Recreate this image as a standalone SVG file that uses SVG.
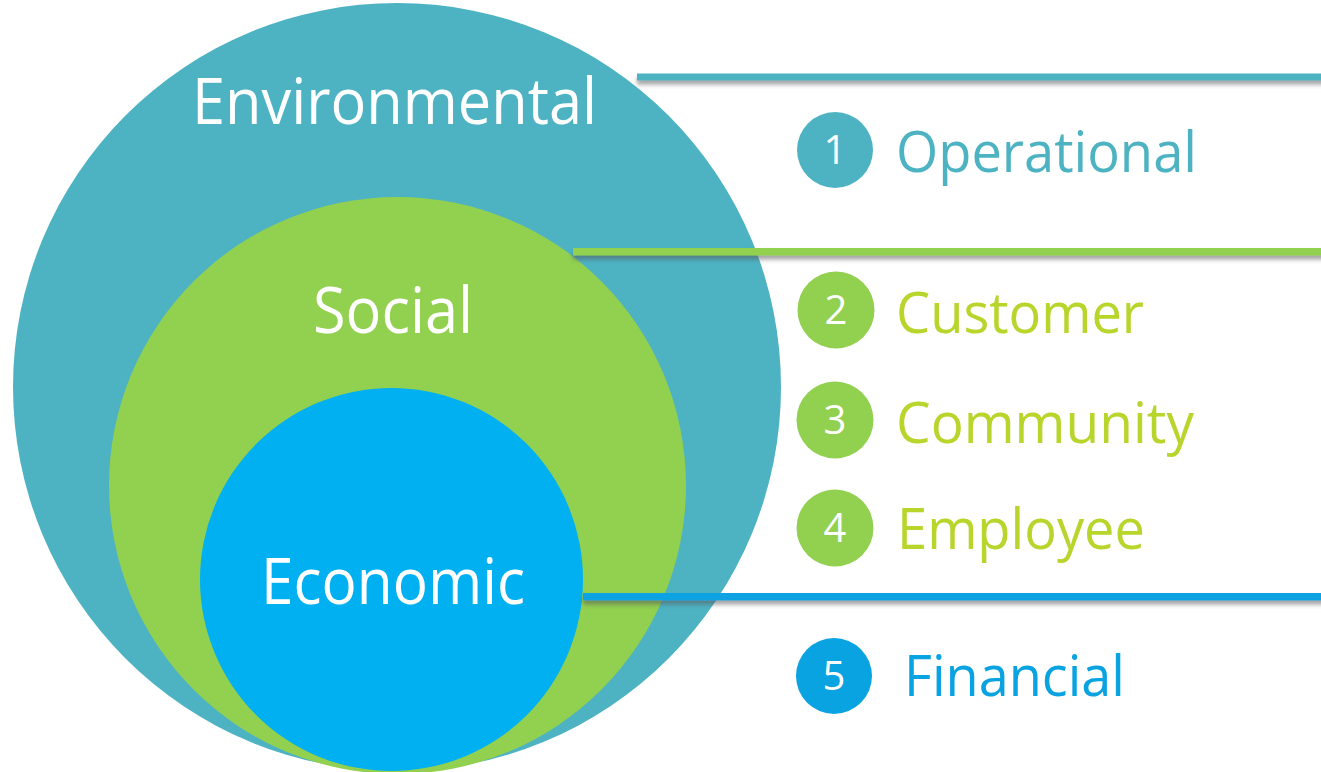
<svg xmlns="http://www.w3.org/2000/svg" width="1321" height="772" viewBox="0 0 1321 772">
  <defs>
    <filter id="sh" x="-5%" y="-200%" width="110%" height="500%">
      <feDropShadow dx="0" dy="4" stdDeviation="2.2" flood-color="#555" flood-opacity="0.55"/>
    </filter>
    <style>
      .big { font-family: "Open Sans", "Noto Sans", sans-serif; font-size: 64px; fill: #ffffff; }
      .lbl { font-family: "Open Sans", "Noto Sans", sans-serif; font-size: 57px; }
      .num { font-family: "Open Sans", "Noto Sans", sans-serif; font-size: 40px; fill: #ffffff; text-anchor: middle; }
      .teal { fill: #4DB3C3; }
      .green { fill: #92D050; }
      .blue { fill: #00B0F0; }
    </style>
  </defs>
  <rect width="1321" height="772" fill="#ffffff"/>

  <g id="environmental">
    <circle cx="397" cy="387" r="384" class="teal"/>
    <text x="192" y="124" class="big" textLength="405" lengthAdjust="spacingAndGlyphs">Environmental</text>
  </g>
  <g id="social">
    <circle cx="397.5" cy="485.5" r="288.5" class="green"/>
    <text x="313" y="333" class="big" textLength="160" lengthAdjust="spacingAndGlyphs">Social</text>
  </g>
  <g id="economic">
    <circle cx="391.5" cy="579.5" r="191.5" class="blue"/>
    <text x="261" y="604" class="big" textLength="264" lengthAdjust="spacingAndGlyphs">Economic</text>
  </g>

  <g id="connectors" filter="url(#sh)">
    <rect x="637" y="73.5" width="690" height="7" fill="#4DB3C3"/>
    <rect x="573" y="248" width="760" height="7.5" fill="#92D050"/>
    <rect x="583" y="593" width="750" height="7.5" fill="#0AA3E2"/>
  </g>

  <g id="operational">
    <circle cx="835" cy="150" r="38" fill="#4DB3C3"/>
    <text x="835" y="164" class="num">1</text>
    <text x="896" y="172" class="lbl" fill="#4DB3C3" textLength="301" lengthAdjust="spacingAndGlyphs">Operational</text>
  </g>
  <g id="customer">
    <circle cx="836" cy="310" r="38.5" fill="#92D050"/>
    <text x="836" y="324" class="num">2</text>
    <text x="896" y="333" class="lbl" fill="#B8D52C" textLength="248" lengthAdjust="spacingAndGlyphs">Customer</text>
  </g>
  <g id="community">
    <circle cx="835" cy="420" r="38.5" fill="#92D050"/>
    <text x="835" y="434" class="num">3</text>
    <text x="896" y="443" class="lbl" fill="#B8D52C" textLength="298" lengthAdjust="spacingAndGlyphs">Community</text>
  </g>
  <g id="employee">
    <circle cx="835" cy="528" r="38.5" fill="#92D050"/>
    <text x="835" y="542" class="num">4</text>
    <text x="897" y="549" class="lbl" fill="#B8D52C" textLength="248" lengthAdjust="spacingAndGlyphs">Employee</text>
  </g>
  <g id="financial">
    <circle cx="834" cy="676" r="38" fill="#0AA3E2"/>
    <text x="834" y="690" class="num">5</text>
    <text x="904" y="696" class="lbl" fill="#0AA3E2" textLength="221" lengthAdjust="spacingAndGlyphs">Financial</text>
  </g>
</svg>
